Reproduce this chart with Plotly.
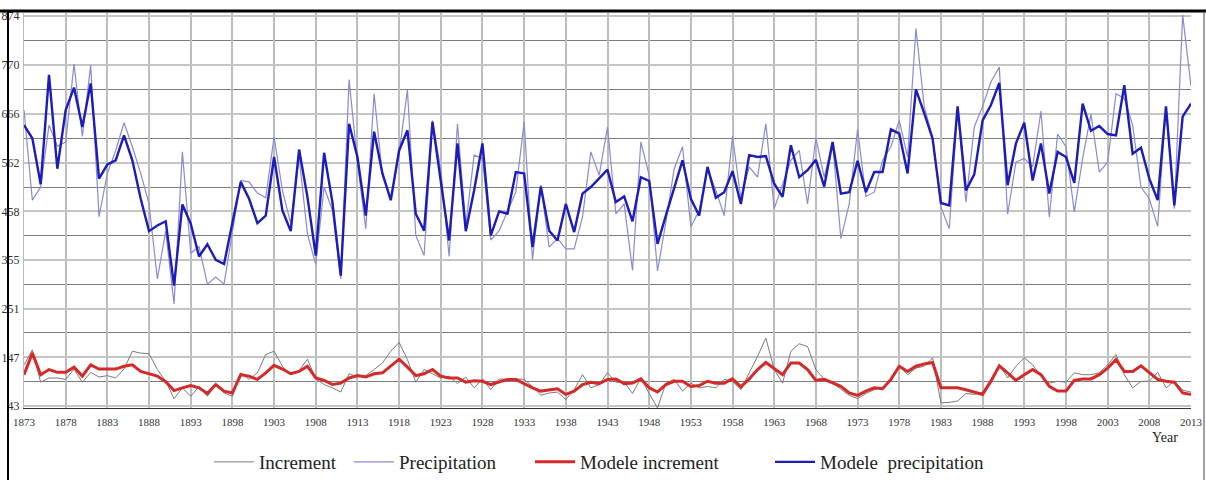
import plotly.graph_objects as go

years = list(range(1873, 2014))

precipitation = [
    674, 482, 510, 642, 597, 606, 772, 618, 770, 447,
    539, 588, 647, 596, 539, 474, 314, 416, 261, 585,
    369, 383, 303, 318, 303, 414, 524, 521, 497, 487,
    617, 503, 432, 574, 410, 345, 510, 460, 314, 739,
    563, 421, 709, 535, 485, 581, 717, 407, 364, 652,
    546, 362, 645, 428, 578, 571, 397, 417, 460, 499,
    649, 355, 514, 382, 400, 378, 378, 446, 585, 535,
    638, 453, 474, 332, 606, 535, 331, 435, 549, 596,
    425, 460, 549, 503, 449, 618, 485, 553, 531, 645,
    464, 514, 567, 588, 474, 615, 531, 606, 400, 474,
    633, 490, 499, 567, 596, 652, 574, 848, 681, 617,
    467, 421, 677, 478, 638, 682, 734, 766, 452, 563,
    571, 553, 672, 446, 623, 596, 457, 571, 665, 542,
    563, 709, 699, 642, 510, 485, 426, 681, 464, 877,
    725,
]

modele_precipitation = [
    642, 614, 516, 749, 549, 674, 722, 638, 731, 528,
    558, 567, 620, 567, 485, 416, 428, 437, 300, 473,
    432, 362, 388, 355, 346, 432, 521, 485, 433, 449,
    574, 460, 416, 590, 489, 364, 583, 478, 321, 645,
    574, 449, 628, 539, 482, 588, 631, 453, 417, 649,
    517, 396, 603, 416, 503, 603, 407, 458, 453, 542,
    539, 382, 511, 417, 396, 474, 414, 496, 510, 528,
    547, 478, 490, 437, 531, 523, 389, 449, 510, 567,
    485, 449, 553, 487, 499, 544, 474, 578, 574, 576,
    517, 489, 599, 531, 546, 568, 511, 606, 496, 499,
    566, 499, 542, 542, 633, 624, 539, 718, 667, 613,
    476, 471, 682, 503, 537, 652, 685, 732, 514, 603,
    647, 524, 603, 496, 585, 574, 519, 688, 630, 640,
    623, 620, 727, 581, 594, 528, 482, 682, 471, 660,
    688,
]

increment = [
    131, 163, 94, 103, 103, 100, 122, 94, 115, 105,
    108, 103, 122, 160, 156, 155, 121, 96, 59, 82,
    64, 85, 64, 89, 71, 64, 114, 100, 114, 153,
    160, 128, 110, 119, 143, 101, 89, 82, 73, 112,
    105, 108, 121, 135, 160, 179, 142, 94, 121, 112,
    103, 107, 91, 105, 82, 101, 78, 101, 100, 101,
    100, 85, 66, 71, 73, 57, 78, 110, 82, 89,
    114, 94, 94, 70, 103, 70, 39, 92, 100, 75,
    92, 82, 85, 82, 100, 96, 78, 114, 149, 188,
    121, 92, 160, 176, 170, 121, 100, 92, 78, 66,
    59, 70, 78, 82, 96, 128, 110, 124, 128, 146,
    50, 51, 54, 70, 68, 73, 100, 131, 103, 128,
    146, 131, 107, 92, 96, 94, 114, 110, 110, 114,
    131, 153, 110, 82, 96, 96, 115, 82, 96, 77,
    73,
]

modele_increment = [
    110, 156, 110, 121, 115, 115, 126, 107, 131, 122,
    122, 122, 128, 131, 117, 112, 107, 95, 76, 82,
    87, 82, 70, 89, 75, 71, 110, 107, 100, 114,
    130, 122, 112, 117, 128, 103, 98, 89, 92, 103,
    108, 105, 112, 114, 128, 143, 126, 108, 112, 121,
    107, 103, 103, 94, 97, 96, 89, 94, 100, 100,
    91, 82, 75, 78, 80, 68, 75, 89, 94, 91,
    100, 101, 91, 92, 101, 82, 73, 89, 96, 96,
    85, 87, 96, 92, 92, 101, 84, 101, 121, 136,
    122, 110, 135, 135, 121, 98, 100, 92, 85, 71,
    66, 75, 82, 80, 100, 128, 117, 128, 133, 136,
    82, 82, 82, 78, 73, 68, 96, 129, 114, 98,
    110, 121, 110, 85, 75, 75, 98, 101, 101, 110,
    124, 142, 117, 117, 129, 114, 100, 96, 94, 71,
    68,
]

x_tick_years = list(range(1873, 2014, 5))
y_tick_vals = [43, 147, 251, 355, 458, 562, 666, 770, 874]
y_tick_text = ["43", "147", "251", "355", "458", "562", "666", "770", "874"]
y_minor_vals = [95, 199, 303, 406, 510, 614, 718, 822]

serif = "Liberation Serif, Times New Roman, serif"

L, R, T, B = 24, 15, 13, 72
W, H = 1206, 480
pw = W - L - R
ph = H - T - B


def px(xp):
    return (xp - L) / pw


def py(yp):
    return (H - B - yp) / ph


fig = go.Figure()
fig.add_trace(go.Scatter(x=years, y=increment, mode="lines", name="Increment",
                         line=dict(color="#7a7a7a", width=1), legend="legend"))
fig.add_trace(go.Scatter(x=years, y=precipitation, mode="lines", name="Precipitation",
                         line=dict(color="#8a8ad2", width=1.2), legend="legend2"))
fig.add_trace(go.Scatter(x=years, y=modele_increment, mode="lines", name="Modele increment",
                         line=dict(color="#d42a2a", width=3), legend="legend3"))
fig.add_trace(go.Scatter(x=years, y=modele_precipitation, mode="lines", name="Modele  precipitation",
                         line=dict(color="#1c1cb8", width=2.4), legend="legend4"))


def leg(xpix):
    return dict(orientation="h", x=px(xpix), y=py(443), xanchor="left", yanchor="top",
                font=dict(family=serif, size=19, color="#222"),
                itemwidth=40, bgcolor="rgba(0,0,0,0)", borderwidth=0)


fig.update_layout(
    width=W, height=H,
    margin=dict(l=L, r=R, t=T, b=B, autoexpand=False),
    paper_bgcolor="white",
    plot_bgcolor="white",
    showlegend=True,
    legend=leg(209),
    legend2=leg(349),
    legend3=leg(530),
    legend4=leg(770),
    xaxis=dict(range=[1873, 2013], tickvals=x_tick_years, ticks="",
               showgrid=True, gridcolor="#bdbdbd", gridwidth=2,
               showline=True, linecolor="#333", linewidth=1, mirror=False,
               tickfont=dict(family=serif, size=11, color="#333"),
               zeroline=False, ticklabelstandoff=4, automargin=False),
    yaxis=dict(range=[39, 881], tickvals=y_tick_vals, ticktext=y_tick_text, ticks="",
               showgrid=True, gridcolor="#c4c4c4", gridwidth=2,
               minor=dict(tickvals=y_minor_vals, showgrid=True, gridcolor="#7c7c7c", gridwidth=1),
               showline=True, linecolor="#bbbbbb", linewidth=1,
               tickfont=dict(family=serif, size=12, color="#333"),
               zeroline=False, ticklabelstandoff=1, automargin=False),
    annotations=[dict(text="Year", x=px(1180), y=py(447), xref="paper", yref="paper",
                      showarrow=False, font=dict(family=serif, size=14, color="#222"))],
    shapes=[
        dict(type="line", xref="paper", yref="paper", x0=px(0), x1=px(1206), y0=py(11), y1=py(11),
             line=dict(color="black", width=3)),
        dict(type="line", xref="paper", yref="paper", x0=px(8), x1=px(8), y0=py(11), y1=py(480),
             line=dict(color="black", width=2)),
        dict(type="line", xref="paper", yref="paper", x0=px(1204), x1=px(1204), y0=py(11), y1=py(480),
             line=dict(color="#444", width=1)),
    ],
)

fig.write_html(
    "out.html",
    config={"displayModeBar": False},
    post_script="document.body.style.margin='0';document.body.style.overflow='hidden';",
)
